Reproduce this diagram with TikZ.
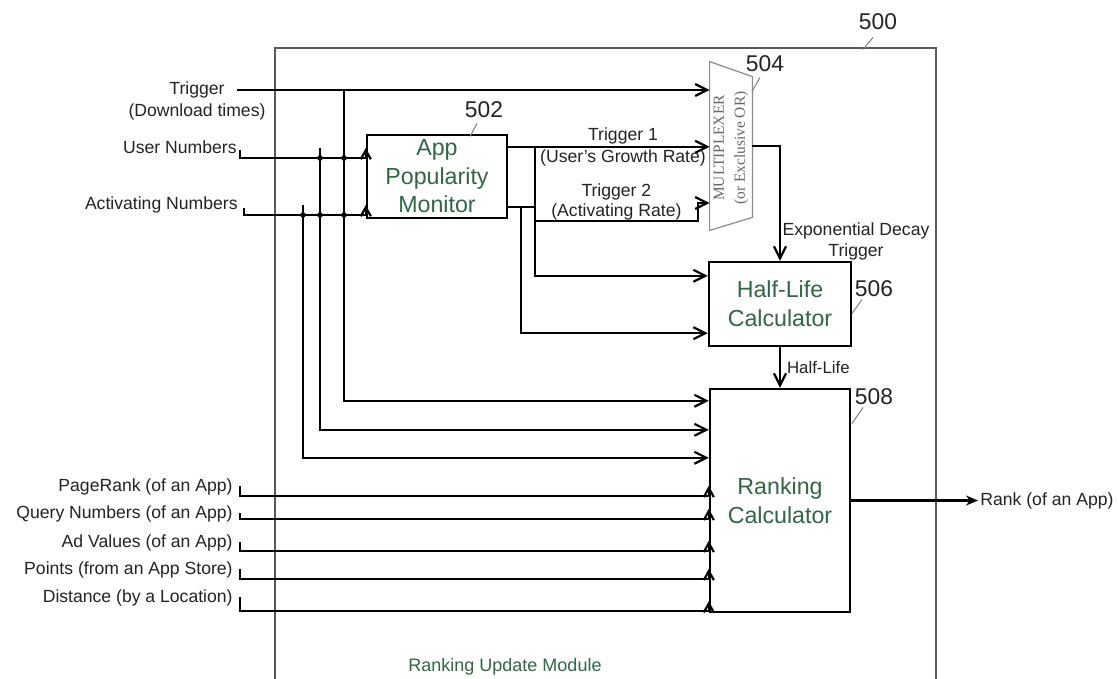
\documentclass[tikz,border=0pt]{standalone}
\usepackage{fontspec}
\setmainfont{Liberation Sans}
\newfontfamily\muxfont{Liberation Serif}
\usetikzlibrary{arrows.meta, positioning, calc}

\definecolor{boxgreen}{RGB}{50,102,70}
\definecolor{inkgray}{RGB}{35,35,35}

\begin{document}
\begin{tikzpicture}[
  x=0.5pt, y=-0.5pt,
  lbl/.style={inner sep=1pt, text=inkgray, align=center,
              font=\fontsize{8.8}{10.5}\selectfont},
  block/.style={rectangle, draw=black, line width=1.2pt, fill=white,
                inner sep=2pt, align=center, text=boxgreen,
                font=\fontsize{11.6}{14.3}\selectfont},
  refnum/.style={inner sep=0pt, text=inkgray, font=\fontsize{11.4}{12}\selectfont},
  leader/.style={black!50, line width=0.5pt},
  wire/.style={line width=1.1pt, black},
  arr/.style={wire, -{Straight Barb[length=6pt,width=6pt]}},
  uparr/.style={wire, -{Straight Barb[length=4.5pt,width=5pt]}}
]
  \useasboundingbox (0,0) rectangle (1118,679);

  % module frame (500)
  \draw[line width=0.8pt, black!65] (275,710) |- (936,48) -- (936,710);
  \node[font=\fontsize{9}{11}\selectfont, text=boxgreen] (rum) at (505,667) {Ranking Update Module};

  % blocks
  \node[block, minimum width=70pt, minimum height=41.5pt] (apm) at (437,176.5) {App\\Popularity\\Monitor};
  \node[block, minimum width=71pt, minimum height=42pt] (hlc) at (780,304) {Half-Life\\Calculator};
  \node[block, minimum width=70pt, minimum height=111.5pt] (rc) at (780,500.5) {Ranking\\Calculator};
  \node[inner sep=0pt, minimum width=21pt, minimum height=84pt] (mux) at (731,146) {};
  \draw[black!45, line width=0.6pt] (mux.north west) -- ($(mux.north east)+(0,15)$)
    -- ($(mux.south east)+(0,-13)$) -- (mux.south west) -- cycle;
  \node[rotate=90, align=center, text=black!60, inner sep=0pt,
        font=\muxfont\fontsize{7.7}{10.5}\selectfont] (muxtxt) at (731,148) {MULTIPLEXER\\(or Exclusive OR)};

  % reference numbers
  \node[refnum] (n500) at (878,22) {500};
  \draw[leader] ($(n500.south)+(-5,7)$) -- ++(-10,12);
  \node[refnum] (n502) at (484,110) {502};
  \draw[leader] ($(n502.south)+(-7,5)$) -- ++(-7,13);
  \node[refnum] (n504) at (765,64) {504};
  \draw[leader] ($(n504.south)+(-5,5)$) -- ++(-8,14);
  \node[refnum] (n506) at (874,289) {506};
  \draw[leader] ($(n506.south)+(-12,2)$) -- ++(-10,14);
  \node[refnum] (n508) at (874,397) {508};
  \draw[leader] ($(n508.south)+(-11,2)$) -- ++(-11,16);

  % inputs of the monitor
  \node[lbl] (trig) at (197,90) {Trigger};
  \node[lbl, below=0.5pt of trig] (dl) {(Download times)};
  \node[lbl, anchor=east] (usr) at (239,147) {User Numbers};
  \node[lbl, anchor=east] (act) at (240,205) {Activating Numbers};

  \coordinate (usrrow) at (240,158);
  \coordinate (actrow) at (244,215);
  \coordinate (tapT) at (344,90);
  \coordinate (tapU) at (320,148);
  \coordinate (tapA) at (303,205);

  \draw[arr] ([xshift=5pt]trig.east) -- (trig.east -| mux.west);
  \draw[uparr] ($(usr.east)+(1,3)$) -- (usrrow) -- (usrrow -| apm.west) -- ++(0,-10);
  \draw[uparr] ($(act.east)+(4,3)$) -- (actrow) -- (actrow -| apm.west) -- ++(0,-10);

  \draw[arr] (tapT) |- ($(rc.north west)+(0,13)$);
  \draw[arr] (tapU) |- ($(rc.north west)+(0,42)$);
  \draw[arr] (tapA) |- ($(rc.north west)+(0,70)$);

  \fill (usrrow -| tapU) circle (1.4pt);
  \fill (usrrow -| tapT) circle (1.4pt);
  \fill (actrow -| tapA) circle (1.4pt);
  \fill (actrow -| tapU) circle (1.4pt);
  \fill (actrow -| tapT) circle (1.4pt);

  % monitor outputs
  \coordinate (t1) at ($(apm.north east)+(0,13)$);
  \coordinate (br1) at ($(t1)+(27,0)$);
  \coordinate (t2) at ($(apm.south east)+(0,-12)$);
  \coordinate (br2) at ($(br1)+(0,74)$);

  \draw[arr] (t1) -- (t1 -| mux.west)
    node[lbl, pos=0.57, above] (t1a) {Trigger 1}
    node[lbl, pos=0.57, below] (t1b) {(User's Growth Rate)};
  \draw[arr] (br1) |- ($(hlc.north west)+(0,15)$);
  \draw[wire] (t2) -- (t2 -| br1);
  \draw[arr] ($(t2)+(13,0)$) |- ($(hlc.south west)+(0,-14)$);
  \draw[arr] (br2) -| node[lbl, pos=0.25, above, inner sep=0pt] (t2b) {(Activating Rate)}
    ($(mux.west)+(-12,57)$) -- ($(mux.west)+(0,57)$);
  \node[lbl, above=0pt of t2b] (t2a) {Trigger 2};

  % multiplexer to half-life to ranking
  \draw[arr] (mux.east) -| (hlc.north);
  \node[lbl] (expd) at (856,241) {Exponential Decay\\Trigger};
  \draw[arr] (hlc.south) -- (rc.north)
    node[lbl, midway, right=2pt, font=\fontsize{8.4}{9}\selectfont] (hl) {Half-Life};

  % other ranking inputs
  \node[lbl, anchor=base east] (pr) at (235,491) {PageRank (of an App)};
  \node[lbl, anchor=base east] (qn) at (235,518) {Query Numbers (of an App)};
  \node[lbl, anchor=base east] (av) at (235,547) {Ad Values (of an App)};
  \node[lbl, anchor=base east] (pt) at (235,574) {Points (from an App Store)};
  \node[lbl, anchor=base east] (ds) at (235,602) {Distance (by a Location)};

  \draw[uparr] ($(pr.base east)+(5,-5)$) |- ($(rc.north west)+(0,108)$) -- ++(0,-10);
  \draw[uparr] ($(qn.base east)+(5,-5)$) |- ($(rc.north west)+(0,131)$) -- ++(0,-10);
  \draw[uparr] ($(av.base east)+(5,-5)$) |- ($(rc.north west)+(0,163)$) -- ++(0,-10);
  \draw[uparr] ($(pt.base east)+(5,-5)$) |- ($(rc.north west)+(0,191)$) -- ++(0,-10);
  \draw[uparr] ($(ds.base east)+(5,-5)$) |- ($(rc.south west)+(0,-2)$) -- ++(0,-10);

  % output
  \node[lbl, anchor=west] (rank) at (978,500.5) {Rank (of an App)};
  \draw[wire, -{Stealth[length=6pt,width=5pt]}] (rc.east) -- (rank.west);
\end{tikzpicture}
\end{document}
